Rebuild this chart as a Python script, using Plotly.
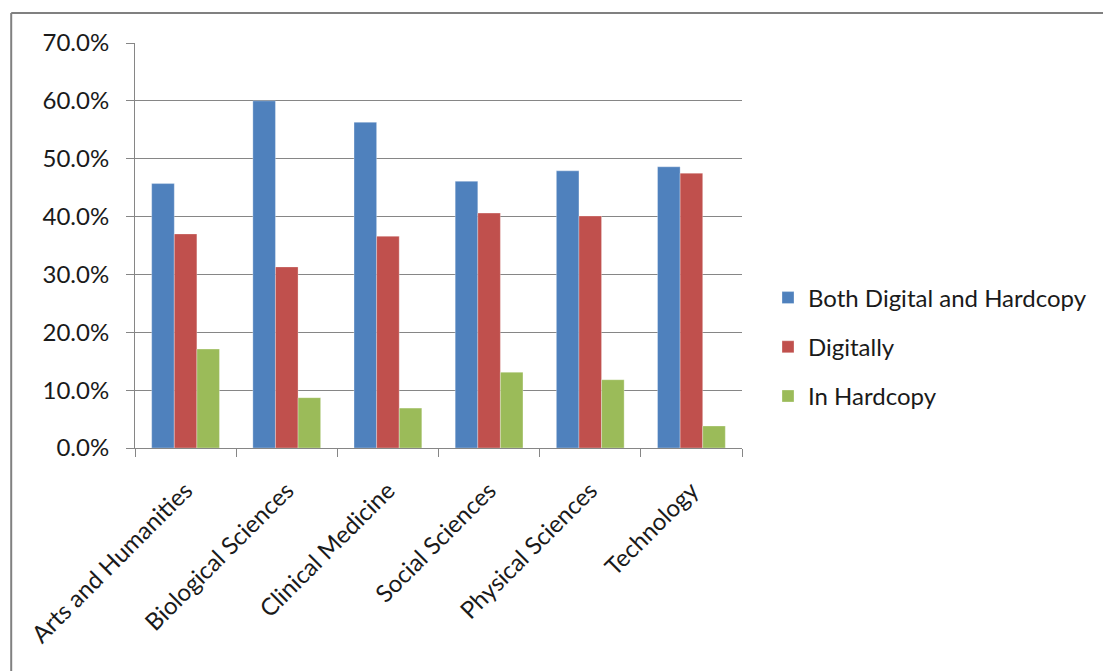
import plotly.graph_objects as go

categories = ["Arts and Humanities", "Biological Sciences", "Clinical Medicine",
              "Social Sciences", "Physical Sciences", "Technology"]
both = [0.457, 0.600, 0.563, 0.461, 0.479, 0.486]
digitally = [0.370, 0.313, 0.366, 0.406, 0.401, 0.475]
hardcopy = [0.171, 0.087, 0.069, 0.131, 0.118, 0.038]
series_names = ["Both Digital and Hardcopy", "Digitally", "In Hardcopy"]
colors = ["#4F81BD", "#C0504D", "#9BBB59"]
y_ticks = [0, 0.1, 0.2, 0.3, 0.4, 0.5, 0.6, 0.7]

W, H = 1103, 671
L, R, T, B = 135, 743, 43, 448

fig = go.Figure()
for i, (name, vals) in enumerate(zip(series_names, [both, digitally, hardcopy])):
    fig.add_trace(go.Bar(
        x=categories, y=vals, name=name, legendgroup=name,
        marker=dict(color=colors[i], line=dict(color="rgba(255,255,255,0.6)", width=0.5)),
    ))

font_family = "Lato, Carlito, 'Open Sans', sans-serif"
gc = "#868686"
fs = 24

def px_x(px):
    return (px - L) / (R - L)

def px_y(py):
    return (B - py) / (B - T)

fig.update_layout(
    width=W, height=H,
    margin=dict(l=L, r=W - R, t=T, b=H - B, pad=0),
    paper_bgcolor="white", plot_bgcolor="white",
    barmode="group", bargap=0.33, bargroupgap=0,
    font=dict(family=font_family, size=fs, color="#1a1a1a"),
    legend=dict(x=px_x(768), xanchor="left", y=px_y(347), yanchor="middle",
                font=dict(size=fs), tracegroupgap=15, bgcolor="rgba(0,0,0,0)",
                itemclick=False),
    xaxis=dict(type="category", showgrid=False, showline=True, linecolor=gc, linewidth=1,
               ticks="outside", tickson="boundaries", ticklen=8, tickcolor=gc,
               tickangle=-45, tickfont=dict(size=fs), ticklabelstandoff=18),
    yaxis=dict(range=[0, 0.7], tickvals=y_ticks, tickformat=".1%", showgrid=True,
               gridcolor=gc, gridwidth=1, showline=True, linecolor=gc, linewidth=1,
               ticks="outside", ticklen=8, tickcolor=gc, zeroline=False,
               tickfont=dict(size=fs), ticklabelstandoff=12),
    shapes=[
        dict(type="line", xref="paper", yref="paper", x0=px_x(11), x1=px_x(1110),
             y0=px_y(13), y1=px_y(13), line=dict(color="#808080", width=2)),
        dict(type="line", xref="paper", yref="paper", x0=px_x(11), x1=px_x(11),
             y0=px_y(13), y1=px_y(680), line=dict(color="#808080", width=2)),
    ],
)

fig.write_html("out.html", config={"displayModeBar": False},
               post_script="document.body.style.margin='0';document.body.style.overflow='hidden';")
